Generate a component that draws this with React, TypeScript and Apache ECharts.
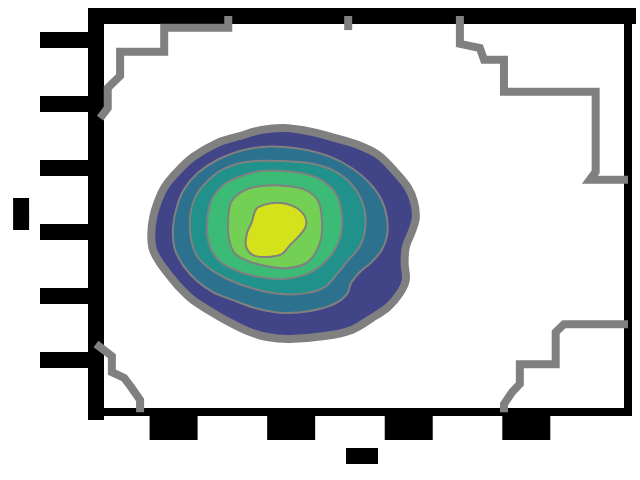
import React, { useEffect, useRef } from "react";
import * as echarts from "echarts";

// axis ticks and ranges (data units)
const X_TICKS = [-2, 0, 2, 4];
const Y_TICKS = [-4, -2, 0, 2, 4, 6];
const X_MIN = -3.32;
const X_MAX = 5.73;
const Y_MIN = -5.625;
const Y_MAX = 6.75;
const X_NAME = "x";
const Y_NAME = "y";

// filled density contours, outermost first
const LEVEL_1: number[][] = [
  [-0.11, 3.25], [0.35, 3.13], [0.74, 2.94], [1.14, 2.72], [1.48, 2.41], [1.77, 1.88], [1.99, 1.38],
  [2.09, 0.94], [2.12, 0.44], [2.05, 0], [1.95, -0.47], [1.93, -0.97], [1.95, -1.5], [1.85, -1.91],
  [1.65, -2.34], [1.37, -2.69], [1.03, -3.06], [0.57, -3.25], [-0.02, -3.34], [-0.41, -3.28],
  [-0.75, -3.09], [-1.09, -2.78], [-1.38, -2.47], [-1.67, -2.13], [-1.89, -1.75], [-2.06, -1.38],
  [-2.23, -0.97], [-2.35, -0.56], [-2.38, -0.09], [-2.35, 0.44], [-2.27, 0.94], [-2.15, 1.41],
  [-1.94, 1.88], [-1.67, 2.34], [-1.26, 2.78], [-0.87, 3.0], [-0.5, 3.19],
];
const LEVEL_2: number[][] = [
  [-0.11, 2.66], [0.27, 2.56], [0.68, 2.34], [1.03, 2.0], [1.32, 1.56], [1.53, 1.03], [1.63, 0.44],
  [1.63, -0.13], [1.54, -0.56], [1.37, -0.94], [1.17, -1.25], [1.02, -1.59], [0.95, -1.94],
  [0.73, -2.25], [0.32, -2.47], [-0.14, -2.53], [-0.6, -2.38], [-0.99, -2.13], [-1.33, -1.88],
  [-1.6, -1.53], [-1.82, -1.09], [-1.98, -0.53], [-2.01, 0.13], [-1.94, 0.81], [-1.82, 1.34],
  [-1.59, 1.84], [-1.26, 2.25], [-0.87, 2.53], [-0.5, 2.66],
];
const LEVEL_3: number[][] = [
  [-0.19, 2.22], [0.37, 2.13], [0.8, 1.84], [1.09, 1.34], [1.24, 0.75], [1.26, 0.13], [1.17, -0.44],
  [0.97, -0.88], [0.78, -1.31], [0.57, -1.72], [0.25, -1.91], [-0.16, -1.94], [-0.62, -1.78],
  [-1.01, -1.53], [-1.35, -1.19], [-1.59, -0.78], [-1.7, -0.25], [-1.72, 0.44], [-1.64, 1.06],
  [-1.47, 1.5], [-1.18, 1.94], [-0.77, 2.19],
];
const LEVEL_4: number[][] = [
  [-0.14, 1.91], [0.25, 1.81], [0.57, 1.56], [0.78, 1.13], [0.86, 0.56], [0.85, -0.06], [0.74, -0.56],
  [0.52, -1.03], [0.23, -1.34], [-0.16, -1.47], [-0.53, -1.41], [-0.87, -1.25], [-1.18, -0.97],
  [-1.36, -0.56], [-1.43, 0], [-1.41, 0.63], [-1.33, 1.09], [-1.11, 1.53], [-0.79, 1.78], [-0.5, 1.91],
];
const LEVEL_5: number[][] = [
  [-0.5, 1.44], [-0.07, 1.44], [0.25, 1.31], [0.46, 0.97], [0.52, 0.44], [0.51, -0.19], [0.4, -0.69],
  [0.23, -1.0], [-0.09, -1.13], [-0.43, -1.06], [-0.73, -0.91], [-0.96, -0.66], [-1.06, -0.19],
  [-1.07, 0.44], [-1.02, 0.94], [-0.82, 1.28],
];
const LEVEL_6: number[][] = [
  [-0.56, 0.78], [-0.28, 0.91], [0.03, 0.81], [0.22, 0.53], [0.25, 0.19], [0.13, -0.13], [-0.02, -0.41],
  [-0.16, -0.69], [-0.41, -0.78], [-0.65, -0.72], [-0.77, -0.44], [-0.75, -0.03], [-0.67, 0.31],
  [-0.62, 0.63],
];
const LEVELS = [LEVEL_1, LEVEL_2, LEVEL_3, LEVEL_4, LEVEL_5, LEVEL_6];
const LEVEL_COLORS = ["#414487", "#2c728e", "#21918c", "#3bbb75", "#74d055", "#d4e21b"];

// lowest contour line fragments near the plot edges
const EDGE_TOP_LEFT: number[][] = [
  [-1.07, 6.75], [-1.07, 6.38], [-2.16, 6.38], [-2.16, 5.63], [-2.91, 5.63], [-2.91, 4.88],
  [-3.05, 4.63], [-3.12, 4.5], [-3.12, 3.88], [-3.25, 3.56],
];
const EDGE_TOP_MID: number[][] = [[0.97, 6.75], [0.97, 6.31]];
const EDGE_TOP_RIGHT: number[][] = [
  [2.87, 6.75], [2.87, 5.88], [3.21, 5.75], [3.28, 5.38], [3.62, 5.38], [3.62, 4.38], [5.18, 4.38],
  [5.18, 1.88], [5.08, 1.63], [5.73, 1.63],
];
const EDGE_BOTTOM_RIGHT: number[][] = [
  [5.73, -2.88], [4.64, -2.88], [4.5, -3.13], [4.5, -4.13], [3.89, -4.13], [3.89, -4.75],
  [3.76, -5.0], [3.62, -5.38], [3.62, -5.63],
];
const EDGE_BOTTOM_LEFT: number[][] = [
  [-3.32, -3.5], [-3.05, -3.88], [-3.05, -4.38], [-2.84, -4.56], [-2.71, -4.88], [-2.57, -5.25],
  [-2.57, -5.63],
];
const EDGES = [EDGE_TOP_LEFT, EDGE_TOP_MID, EDGE_TOP_RIGHT, EDGE_BOTTOM_RIGHT, EDGE_BOTTOM_LEFT];

export default function App() {
  const ref = useRef<HTMLDivElement>(null);
  useEffect(() => {
    if (!ref.current) return;
    const chart = echarts.init(ref.current, undefined, { renderer: "svg" });
    const boxLabel = {
      color: "#000",
      backgroundColor: "#000",
      fontSize: 12,
      padding: 0,
    };
    const nameStyle = {
      rich: {
        b: { color: "#000", backgroundColor: "#000", width: 32, height: 16, lineHeight: 16, fontSize: 14, align: "center" },
      },
    };
    const option: any = {
      animation: false,
      backgroundColor: "#fff",
      grid: { left: 96, right: 12, top: 16, bottom: 68 },
      xAxis: [
        {
          type: "value",
          min: X_MIN,
          max: X_MAX,
          position: "bottom",
          name: `{b|${X_NAME}}`,
          nameLocation: "middle",
          nameGap: 36,
          nameTextStyle: nameStyle,
          axisLine: { onZero: false, lineStyle: { color: "#000", width: 8, cap: "square" } },
          axisTick: { show: false },
          splitLine: { show: false },
          axisLabel: {
            ...boxLabel,
            customValues: X_TICKS,
            margin: 4,
            width: 48,
            height: 24,
            lineHeight: 24,
            formatter: (v: number) => String(v),
          },
        },
        {
          type: "value",
          min: X_MIN,
          max: X_MAX,
          position: "top",
          axisLine: { onZero: false, lineStyle: { color: "#000", width: 16, cap: "square" } },
          axisTick: { show: false },
          axisLabel: { show: false },
          splitLine: { show: false },
        },
      ],
      yAxis: [
        {
          type: "value",
          min: Y_MIN,
          max: Y_MAX,
          position: "left",
          name: `{b|${Y_NAME}}`,
          nameLocation: "middle",
          nameGap: 62,
          nameTextStyle: nameStyle,
          axisLine: { onZero: false, lineStyle: { color: "#000", width: 16, cap: "square" } },
          axisTick: { show: false },
          splitLine: { show: false },
          axisLabel: {
            ...boxLabel,
            customValues: Y_TICKS,
            margin: 8,
            width: 48,
            height: 16,
            lineHeight: 16,
            formatter: (v: number) => String(v),
          },
        },
        {
          type: "value",
          min: Y_MIN,
          max: Y_MAX,
          position: "right",
          axisLine: { onZero: false, lineStyle: { color: "#000", width: 8, cap: "square" } },
          axisTick: { show: false },
          axisLabel: { show: false },
          splitLine: { show: false },
        },
      ],
      series: [
        {
          type: "custom",
          xAxisIndex: 0,
          yAxisIndex: 0,
          clip: true,
          silent: true,
          data: LEVELS.map((_, i) => [i]),
          renderItem: (params: any, api: any) => {
            const i = params.dataIndex;
            const pts = LEVELS[i].map((p) => api.coord(p));
            return {
              type: "polygon",
              shape: { points: pts, smooth: 0.35 },
              style: {
                fill: LEVEL_COLORS[i],
                stroke: "#808080",
                lineWidth: i === 0 ? 8 : 2,
              },
            };
          },
        },
        ...EDGES.map((pts) => ({
          type: "line",
          xAxisIndex: 0,
          yAxisIndex: 0,
          data: pts,
          showSymbol: false,
          silent: true,
          lineStyle: { color: "#808080", width: 8, join: "miter", cap: "butt" },
          z: 1,
        })),
      ],
    };
    chart.setOption(option);
    return () => chart.dispose();
  }, []);
  return <div ref={ref} style={{ width: 640, height: 480, position: "absolute", left: 0, top: 0 }} />;
}
